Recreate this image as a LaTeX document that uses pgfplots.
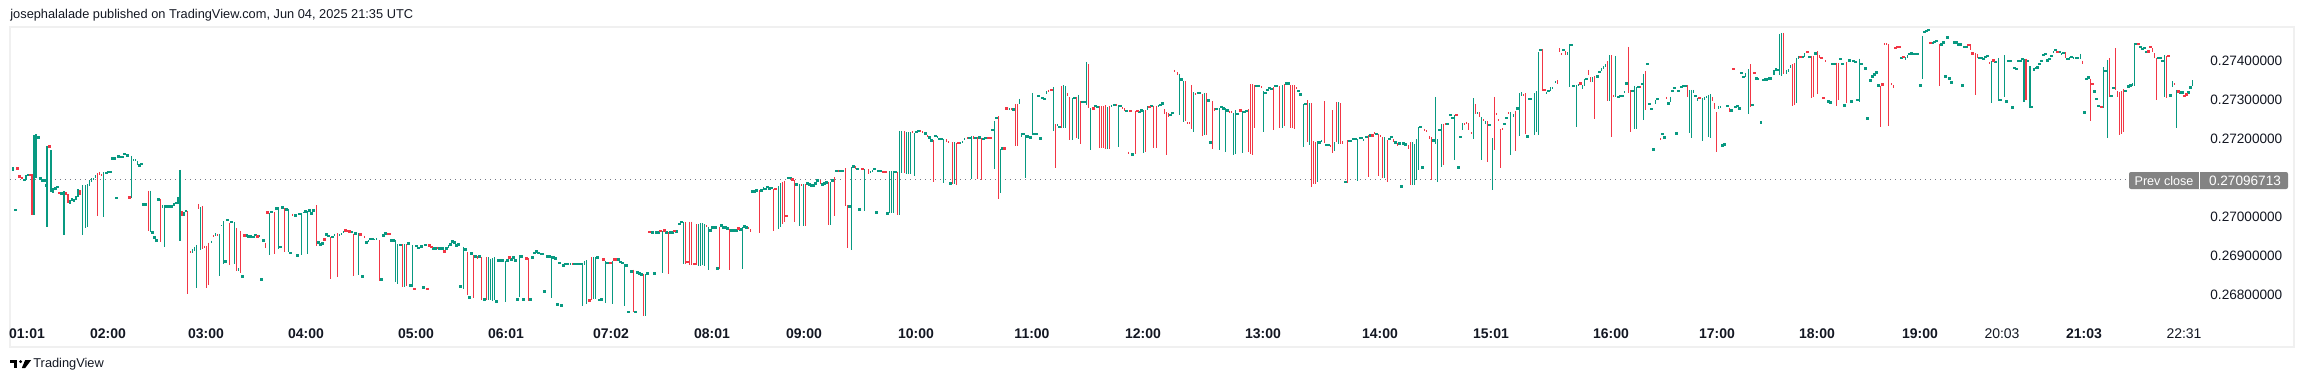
\documentclass[border=0pt]{standalone}
\usepackage{fontspec}
\setmainfont{Liberation Sans}
\usepackage{pgfplots}
\usepackage{pgfplotstable}
\pgfplotsset{compat=1.18}
\definecolor{tvgreen}{RGB}{8,153,129}
\definecolor{tvred}{RGB}{242,54,69}
\definecolor{tvtext}{RGB}{19,23,34}
\definecolor{tvframe}{RGB}{240,240,240}
\definecolor{tvdot}{RGB}{120,123,134}
\definecolor{tvbox}{RGB}{131,131,131}

% green candles with a visible range: x lo hi
\pgfplotstableread[row sep=\\]{x lo hi\\
13.3 0.27119 0.27128\\26.3 0.27095 0.27108\\34.3 0.27005 0.27210\\36.3 0.27101 0.27213\\47.3 0.26976 0.27182\\51.3 0.27065 0.27172\\53.3 0.27063 0.27074\\64.3 0.26954 0.27067\\
70.3 0.27034 0.27044\\72.3 0.27041 0.27049\\74.3 0.27040 0.27047\\76.3 0.27044 0.27054\\78.3 0.27052 0.27072\\82.3 0.26954 0.27082\\85.3 0.26973 0.27082\\87.3 0.26975 0.27085\\
89.3 0.27081 0.27095\\91.3 0.27091 0.27100\\93.3 0.27094 0.27100\\95.3 0.27101 0.27108\\103.3 0.27000 0.27116\\120.3 0.27152 0.27157\\131.3 0.27049 0.27157\\133.3 0.27144 0.27148\\
135.3 0.27144 0.27148\\137.3 0.27134 0.27145\\150.3 0.26961 0.27068\\162.3 0.27024 0.27030\\164.3 0.26924 0.27030\\171.7 0.27024 0.27030\\175.7 0.27033 0.27039\\177.7 0.27035 0.27051\\
179.7 0.26939 0.27121\\183.7 0.27004 0.27014\\192.3 0.26908 0.26918\\194.3 0.26914 0.26924\\196.3 0.26819 0.26929\\200.3 0.26917 0.27026\\211.3 0.26935 0.26940\\215.3 0.26952 0.26959\\
219.3 0.26849 0.26958\\221.3 0.26977 0.26980\\223.3 0.26880 0.26990\\234.3 0.26880 0.26988\\238.3 0.26863 0.26870\\259.3 0.26949 0.26954\\269.3 0.26903 0.27011\\278.3 0.26918 0.27026\\
288.3 0.26912 0.27020\\301.3 0.26903 0.27011\\303.3 0.27011 0.27014\\307.3 0.26907 0.27015\\334.3 0.26951 0.26957\\339.3 0.26953 0.26957\\341.3 0.26954 0.26959\\343.3 0.26960 0.26965\\
358.3 0.26852 0.26959\\368.3 0.26937 0.26942\\374.3 0.26941 0.26944\\376.3 0.26941 0.26947\\395.3 0.26834 0.26941\\397.3 0.26829 0.26931\\404.3 0.26822 0.26931\\412.3 0.26821 0.26928\\
448.3 0.26921 0.26929\\463.3 0.26816 0.26924\\488.3 0.26788 0.26897\\490.3 0.26788 0.26894\\492.3 0.26785 0.26895\\494.3 0.26788 0.26897\\505.3 0.26784 0.26889\\519.3 0.26795 0.26903\\
540.3 0.26903 0.26908\\551.3 0.26794 0.26900\\570.3 0.26877 0.26883\\582.3 0.26773 0.26883\\584.3 0.26877 0.26888\\586.3 0.26778 0.26890\\593.3 0.26790 0.26898\\595.3 0.26790 0.26898\\
605.3 0.26781 0.26888\\612.3 0.26778 0.26888\\624.3 0.26773 0.26880\\645.3 0.26748 0.26854\\662.3 0.26858 0.26965\\683.3 0.26880 0.26988\\698.3 0.26876 0.26982\\700.3 0.26876 0.26985\\
702.3 0.26877 0.26985\\704.3 0.26876 0.26982\\708.3 0.26865 0.26976\\742.3 0.26868 0.26974\\763.3 0.27069 0.27077\\778.3 0.26970 0.27079\\780.3 0.26974 0.27087\\799.3 0.26978 0.27084\\
803.3 0.26978 0.27084\\830.3 0.26981 0.27089\\851.3 0.26917 0.27128\\864.3 0.27017 0.27123\\870.3 0.27114 0.27118\\872.3 0.27116 0.27121\\
889.3 0.27010 0.27118\\891.3 0.27011 0.27118\\893.3 0.27011 0.27118\\899.3 0.27005 0.27221\\901.3 0.27113 0.27221\\906.3 0.27111 0.27218\\908.3 0.27111 0.27218\\910.3 0.27111 0.27218\\
914.3 0.27105 0.27215\\937.3 0.27203 0.27208\\943.3 0.27088 0.27200\\954.3 0.27086 0.27192\\960.3 0.27187 0.27192\\962.3 0.27190 0.27195\\964.3 0.27197 0.27203\\971.3 0.27099 0.27208\\
994.3 0.27124 0.27246\\1000.3 0.27062 0.27174\\1009.3 0.27274 0.27279\\1019.3 0.27290 0.27303\\1021.3 0.27205 0.27215\\1025.3 0.27100 0.27210\\1032.3 0.27210 0.27318\\1046.3 0.27315 0.27323\\
1053.3 0.27221 0.27333\\1057.3 0.27233 0.27239\\1063.3 0.27228 0.27338\\1065.3 0.27228 0.27336\\1072.3 0.27197 0.27305\\1078.3 0.27200 0.27313\\1086.3 0.27287 0.27398\\1090.3 0.27172 0.27279\\
1107.3 0.27174 0.27282\\1111.3 0.27282 0.27287\\1118.3 0.27180 0.27287\\1143.3 0.27165 0.27274\\1147.3 0.27274 0.27285\\1158.3 0.27282 0.27287\\1179.3 0.27262 0.27367\\1183.3 0.27244 0.27349\\
1193.3 0.27218 0.27320\\1200.3 0.27315 0.27320\\1204.3 0.27210 0.27318\\1219.3 0.27172 0.27279\\1225.3 0.27167 0.27279\\1233.3 0.27159 0.27267\\1235.3 0.27162 0.27274\\1242.3 0.27164 0.27272\\
1263.3 0.27218 0.27323\\1277.3 0.27333 0.27338\\1282.3 0.27228 0.27338\\1303.3 0.27180 0.27290\\1309.3 0.27185 0.27292\\1317.3 0.27090 0.27195\\
1321.3 0.27192 0.27197\\1334.3 0.27170 0.27192\\1338.3 0.27187 0.27295\\1351.3 0.27192 0.27197\\1357.3 0.27093 0.27200\\1359.3 0.27200 0.27205\\1363.3 0.27195 0.27200\\1384.3 0.27100 0.27205\\
1412.3 0.27082 0.27192\\1414.3 0.27082 0.27187\\1416.3 0.27094 0.27200\\1418.3 0.27122 0.27231\\1435.3 0.27187 0.27308\\1437.3 0.27091 0.27200\\1441.3 0.27129 0.27239\\1454.3 0.27146 0.27262\\
1462.3 0.27223 0.27241\\1473.3 0.27200 0.27305\\1477.3 0.27264 0.27269\\1481.3 0.27146 0.27256\\1485.3 0.27239 0.27246\\1492.3 0.27070 0.27203\\1510.3 0.27159 0.27269\\1513.3 0.27256 0.27264\\
1519.3 0.27208 0.27318\\1521.3 0.27310 0.27320\\1531.3 0.27300 0.27305\\1534.3 0.27210 0.27318\\1536.3 0.27218 0.27323\\1538.3 0.27210 0.27423\\1546.3 0.27315 0.27320\\1550.3 0.27323 0.27333\\
1552.3 0.27328 0.27333\\1555.3 0.27343 0.27349\\1567.3 0.27415 0.27423\\1569.3 0.27333 0.27443\\1576.3 0.27231 0.27338\\1578.3 0.27336 0.27341\\1582.3 0.27328 0.27338\\1584.3 0.27336 0.27354\\
1592.3 0.27346 0.27359\\1601.3 0.27374 0.27382\\1603.3 0.27379 0.27387\\1605.3 0.27384 0.27392\\1609.3 0.27297 0.27415\\1615.3 0.27308 0.27413\\1624.3 0.27318 0.27323\\1634.3 0.27226 0.27336\\
1636.3 0.27226 0.27333\\1643.3 0.27249 0.27367\\1655.3 0.27290 0.27300\\1670.3 0.27295 0.27308\\1689.3 0.27215 0.27326\\1691.3 0.27203 0.27326\\1693.3 0.27318 0.27326\\1697.3 0.27297 0.27305\\
1702.3 0.27195 0.27305\\1704.3 0.27300 0.27308\\1706.3 0.27305 0.27310\\1708.3 0.27205 0.27313\\1710.3 0.27203 0.27315\\1718.3 0.27277 0.27285\\1720.3 0.27279 0.27285\\1745.3 0.27359 0.27369\\
1748.3 0.27264 0.27379\\1758.3 0.27351 0.27356\\
1773.7 0.27364 0.27377\\1779.3 0.27364 0.27469\\1781.3 0.27361 0.27472\\1786.3 0.27367 0.27377\\1788.3 0.27372 0.27379\\1790.3 0.27382 0.27390\\1796.3 0.27292 0.27408\\1798.3 0.27405 0.27413\\
1804.3 0.27410 0.27420\\1859.3 0.27296 0.27406\\1905.3 0.27403 0.27410\\1907.3 0.27408 0.27415\\1915.3 0.27415 0.27420\\1922.3 0.27355 0.27464\\1991.3 0.27292 0.27401\\1998.3 0.27297 0.27408\\
2004.3 0.27308 0.27415\\2024.0 0.27295 0.27406\\2029.8 0.27280 0.27387\\2053.3 0.27420 0.27425\\2061.3 0.27415 0.27420\\2069.3 0.27403 0.27410\\2073.3 0.27405 0.27410\\2075.3 0.27405 0.27410\\
2080.3 0.27405 0.27418\\2103.3 0.27279 0.27384\\2107.3 0.27204 0.27403\\2132.3 0.27337 0.27343\\2134.3 0.27337 0.27445\\2164.3 0.27308 0.27415\\2172.3 0.27333 0.27349\\2176.3 0.27229 0.27326\\
2192.3 0.27336 0.27351\\
}\gbars

% red candles with a visible range: x lo hi
\pgfplotstableread[row sep=\\]{x lo hi\\
22.3 0.27098 0.27103\\32.3 0.27005 0.27110\\59.3 0.27060 0.27065\\66.3 0.27058 0.27065\\68.3 0.27037 0.27059\\80.3 0.27058 0.27069\\97.3 0.27003 0.27113\\99.3 0.27108 0.27116\\
101.3 0.27105 0.27111\\148.3 0.26965 0.27068\\160.3 0.26936 0.27047\\181.7 0.27003 0.27016\\187.3 0.26803 0.27016\\190.3 0.26908 0.26913\\198.3 0.27022 0.27034\\202.3 0.26919 0.27029\\
204.3 0.26921 0.26927\\206.3 0.26819 0.26927\\208.3 0.26826 0.26935\\213.3 0.26949 0.26954\\217.3 0.26953 0.26957\\229.3 0.26877 0.26986\\236.3 0.26863 0.26972\\240.3 0.26858 0.26965\\
265.3 0.26921 0.26933\\274.3 0.26907 0.27013\\284.3 0.26912 0.27023\\292.3 0.27003 0.27009\\316.3 0.26926 0.27031\\330.3 0.26842 0.26949\\337.3 0.26847 0.26959\\353.3 0.26850 0.26957\\
364.3 0.26947 0.26953\\379.3 0.26836 0.26941\\387.3 0.26954 0.26959\\402.3 0.26822 0.26931\\406.3 0.26823 0.26931\\437.3 0.26919 0.26924\\
467.3 0.26801 0.26911\\473.3 0.26794 0.26903\\477.3 0.26894 0.26900\\481.3 0.26788 0.26897\\486.3 0.26788 0.26897\\528.3 0.26786 0.26895\\572.3 0.26877 0.26883\\591.3 0.26788 0.26898\\
616.3 0.26889 0.26895\\633.3 0.26758 0.26866\\643.3 0.26748 0.26854\\668.3 0.26854 0.26961\\685.3 0.26880 0.26988\\689.3 0.26877 0.26989\\691.3 0.26877 0.26989\\696.3 0.26877 0.26982\\
706.3 0.26974 0.26979\\719.3 0.26868 0.26976\\729.3 0.26865 0.26971\\748.3 0.26969 0.26974\\750.3 0.26963 0.26969\\759.3 0.26960 0.27069\\773.3 0.26965 0.27072\\782.3 0.26982 0.27091\\
784.3 0.26988 0.27093\\794.3 0.26988 0.27094\\801.3 0.27080 0.27084\\805.3 0.26978 0.27084\\820.3 0.27086 0.27094\\828.3 0.26981 0.27089\\834.3 0.27004 0.27103\\838.3 0.27116 0.27121\\
845.3 0.27029 0.27126\\847.3 0.26922 0.27031\\855.3 0.27123 0.27130\\868.3 0.27111 0.27123\\
897.3 0.27005 0.27116\\904.3 0.27113 0.27221\\912.3 0.27215 0.27221\\920.3 0.27218 0.27223\\922.3 0.27215 0.27221\\927.3 0.27205 0.27210\\933.3 0.27091 0.27197\\946.3 0.27192 0.27200\\
948.3 0.27190 0.27195\\952.3 0.27086 0.27192\\956.3 0.27083 0.27190\\967.3 0.27200 0.27205\\973.3 0.27200 0.27208\\977.3 0.27098 0.27205\\981.3 0.27094 0.27203\\998.3 0.27047 0.27259\\
1011.3 0.27274 0.27279\\1015.3 0.27182 0.27290\\1017.3 0.27182 0.27290\\1048.3 0.27320 0.27326\\1055.3 0.27126 0.27239\\1061.3 0.27228 0.27336\\1067.3 0.27310 0.27318\\1069.3 0.27197 0.27308\\
1076.3 0.27203 0.27308\\1080.3 0.27187 0.27297\\1088.3 0.27279 0.27392\\1099.3 0.27177 0.27285\\1101.3 0.27177 0.27285\\1103.3 0.27177 0.27285\\1105.3 0.27174 0.27287\\1109.3 0.27174 0.27285\\
1116.3 0.27285 0.27290\\1122.3 0.27277 0.27282\\1124.3 0.27272 0.27279\\1128.3 0.27163 0.27168\\1135.3 0.27162 0.27272\\1145.3 0.27167 0.27274\\1153.3 0.27177 0.27285\\1156.3 0.27177 0.27285\\
1164.3 0.27264 0.27277\\1166.3 0.27160 0.27269\\1168.3 0.27257 0.27267\\1174.3 0.27372 0.27377\\1177.3 0.27364 0.27372\\1185.3 0.27246 0.27349\\1187.3 0.27239 0.27244\\1189.3 0.27239 0.27244\\
1191.3 0.27226 0.27338\\1195.3 0.27313 0.27318\\1202.3 0.27208 0.27315\\1206.3 0.27210 0.27318\\1212.3 0.27174 0.27297\\1214.3 0.27272 0.27279\\1229.3 0.27267 0.27272\\1231.3 0.27267 0.27272\\
1248.3 0.27167 0.27277\\1250.3 0.27162 0.27341\\1252.3 0.27160 0.27341\\1254.3 0.27228 0.27338\\1261.3 0.27331 0.27336\\1273.3 0.27223 0.27333\\1279.3 0.27228 0.27336\\1284.3 0.27233 0.27341\\
1290.3 0.27228 0.27338\\1292.3 0.27228 0.27338\\1294.3 0.27226 0.27338\\1296.3 0.27328 0.27333\\1307.3 0.27192 0.27300\\1311.3 0.27077 0.27292\\1313.3 0.27086 0.27195\\1315.3 0.27086 0.27192\\
1324.3 0.27190 0.27297\\1330.3 0.27180 0.27185\\1332.3 0.27165 0.27274\\1336.3 0.27192 0.27295\\1340.3 0.27187 0.27292\\1342.3 0.27187 0.27195\\1347.3 0.27088 0.27197\\1368.3 0.27103 0.27210\\
1374.3 0.27213 0.27218\\1378.3 0.27105 0.27213\\1380.3 0.27205 0.27210\\1382.3 0.27100 0.27205\\1387.3 0.27090 0.27197\\1393.3 0.27192 0.27200\\1397.3 0.27183 0.27190\\1408.3 0.27174 0.27185\\
1410.3 0.27082 0.27192\\1424.3 0.27221 0.27226\\1426.3 0.27218 0.27223\\1429.3 0.27200 0.27208\\1431.3 0.27094 0.27205\\1443.3 0.27133 0.27239\\1445.3 0.27236 0.27241\\1464.3 0.27236 0.27241\\
1466.3 0.27239 0.27244\\1468.3 0.27223 0.27241\\1471.3 0.27213 0.27218\\1475.3 0.27264 0.27290\\1479.3 0.27256 0.27269\\1483.3 0.27246 0.27251\\1487.3 0.27141 0.27246\\1494.3 0.27172 0.27308\\
1496.3 0.27262 0.27267\\1498.3 0.27246 0.27251\\1500.3 0.27126 0.27226\\1502.3 0.27223 0.27228\\1508.3 0.27264 0.27269\\1515.3 0.27169 0.27272\\1523.3 0.27310 0.27315\\1525.3 0.27213 0.27318\\
1542.3 0.27323 0.27431\\1557.3 0.27341 0.27351\\1559.3 0.27423 0.27433\\1561.3 0.27415 0.27420\\1565.3 0.27415 0.27425\\1588.3 0.27364 0.27377\\1590.3 0.27346 0.27359\\1594.3 0.27251 0.27361\\
1607.3 0.27297 0.27400\\1611.3 0.27205 0.27415\\1613.3 0.27308 0.27313\\1628.3 0.27318 0.27436\\1630.3 0.27218 0.27326\\1640.3 0.27331 0.27336\\1645.3 0.27274 0.27374\\1660.3 0.27197 0.27203\\
1666.3 0.27303 0.27308\\1687.3 0.27308 0.27338\\1712.3 0.27297 0.27308\\1714.3 0.27277 0.27292\\1716.3 0.27167 0.27269\\1729.3 0.27269 0.27279\\1750.3 0.27282 0.27392\\
1783.3 0.27367 0.27472\\1792.3 0.27285 0.27392\\1794.3 0.27287 0.27395\\1811.3 0.27305 0.27413\\1813.3 0.27308 0.27413\\1817.3 0.27315 0.27425\\1819.3 0.27408 0.27415\\1825.3 0.27398 0.27403\\
1836.3 0.27285 0.27395\\1838.3 0.27300 0.27395\\1846.3 0.27292 0.27398\\1880.3 0.27232 0.27337\\1884.3 0.27441 0.27446\\1886.3 0.27441 0.27446\\1888.3 0.27234 0.27443\\1891.3 0.27338 0.27343\\
1893.3 0.27331 0.27338\\1939.3 0.27336 0.27443\\1970.3 0.27429 0.27443\\1975.3 0.27313 0.27420\\1977.3 0.27408 0.27418\\1989.3 0.27393 0.27398\\2025.8 0.27300 0.27406\\2065.3 0.27408 0.27423\\
2082.3 0.27393 0.27401\\2090.3 0.27246 0.27355\\2109.3 0.27308 0.27408\\2115.3 0.27325 0.27433\\2117.3 0.27308 0.27323\\2119.3 0.27211 0.27320\\2121.3 0.27214 0.27322\\2123.3 0.27219 0.27328\\
2152.3 0.27423 0.27433\\2154.3 0.27408 0.27420\\2156.3 0.27300 0.27408\\2166.3 0.27305 0.27413\\2174.3 0.27338 0.27343\\
}\rbars

% green flat candles: x price
\pgfplotstableread[row sep=\\]{x y\\
15.3 0.27018\\24.3 0.27095\\28.3 0.27108\\38.3 0.27204\\40.3 0.27099\\42.3 0.27094\\44.3 0.27094\\45.7 0.27081\\55.3 0.27074\\57.3 0.27077\\61.3 0.27061\\106.3 0.27113\\
108.3 0.27116\\110.3 0.27116\\112.3 0.27151\\114.3 0.27151\\116.3 0.27049\\118.3 0.27156\\122.3 0.27154\\124.3 0.27162\\127.3 0.27158\\139.3 0.27133\\141.3 0.27136\\143.3 0.27033\\
145.3 0.27033\\152.3 0.26961\\154.3 0.26948\\156.3 0.26941\\158.3 0.27046\\166.3 0.27028\\168.3 0.27028\\170.0 0.27028\\173.7 0.27033\\185.7 0.27016\\225.3 0.26887\\227.3 0.26993\\
231.3 0.26988\\242.3 0.26848\\246.3 0.26953\\248.3 0.26951\\250.3 0.26951\\253.3 0.26949\\255.3 0.26954\\261.3 0.26841\\263.3 0.26941\\271.3 0.27013\\276.3 0.27023\\280.3 0.26924\\
282.3 0.27025\\286.3 0.27020\\290.3 0.26909\\295.3 0.27005\\297.3 0.26902\\299.3 0.27009\\305.3 0.27015\\309.3 0.27017\\311.3 0.27010\\313.3 0.27017\\318.3 0.26935\\320.3 0.26930\\
322.3 0.26933\\326.3 0.26956\\328.3 0.26952\\332.3 0.26949\\351.3 0.26963\\355.3 0.26959\\362.3 0.26848\\366.3 0.26936\\370.3 0.26944\\372.3 0.26944\\381.3 0.26841\\383.3 0.26953\\
385.3 0.26959\\391.3 0.26941\\393.3 0.26941\\400.3 0.26929\\408.3 0.26933\\410.3 0.26825\\416.3 0.26926\\418.3 0.26922\\421.3 0.26925\\423.3 0.26820\\425.3 0.26929\\433.3 0.26920\\
435.3 0.26920\\439.3 0.26920\\
442.3 0.26920\\446.3 0.26920\\450.3 0.26930\\452.3 0.26938\\454.3 0.26935\\456.3 0.26928\\458.3 0.26930\\460.3 0.26823\\465.3 0.26918\\469.3 0.26795\\471.3 0.26907\\475.3 0.26900\\
479.3 0.26900\\484.3 0.26789\\496.3 0.26784\\498.3 0.26889\\500.3 0.26889\\502.3 0.26889\\507.3 0.26889\\511.3 0.26892\\513.3 0.26897\\515.3 0.26889\\517.3 0.26789\\521.3 0.26900\\
523.3 0.26789\\530.3 0.26789\\532.3 0.26897\\534.3 0.26908\\536.3 0.26912\\538.3 0.26909\\542.3 0.26906\\544.3 0.26810\\547.3 0.26900\\549.3 0.26900\\553.3 0.26897\\555.3 0.26895\\
557.3 0.26777\\559.3 0.26883\\561.3 0.26774\\563.3 0.26877\\565.3 0.26880\\567.3 0.26880\\574.3 0.26881\\576.3 0.26880\\578.3 0.26880\\580.3 0.26880\\597.3 0.26897\\599.3 0.26788\\
601.3 0.26790\\607.3 0.26883\\618.3 0.26892\\620.3 0.26885\\622.3 0.26883\\626.3 0.26877\\628.3 0.26757\\631.3 0.26861\\635.3 0.26757\\637.3 0.26859\\639.3 0.26856\\641.3 0.26854\\
647.3 0.26856\\652.3 0.26961\\654.3 0.26856\\656.3 0.26961\\658.3 0.26961\\666.3 0.26961\\670.3 0.26961\\672.3 0.26961\\676.3 0.26964\\679.3 0.26983\\681.3 0.26988\\710.3 0.26966\\
712.3 0.26974\\715.3 0.26974\\717.3 0.26869\\721.3 0.26979\\723.3 0.26974\\725.3 0.26974\\727.3 0.26971\\731.3 0.26966\\733.3 0.26966\\736.3 0.26966\\740.3 0.26969\\744.3 0.26976\\
746.3 0.26974\\752.3 0.27066\\754.3 0.27066\\756.3 0.27069\\761.3 0.27069\\765.3 0.27072\\767.3 0.27077\\769.3 0.27074\\771.3 0.27075\\788.3 0.27101\\790.3 0.27101\\796.3 0.27084\\
807.3 0.27087\\809.3 0.27084\\811.3 0.27081\\813.3 0.27081\\815.3 0.27087\\817.3 0.27094\\822.3 0.27084\\824.3 0.27087\\826.3 0.27089\\832.3 0.27094\\836.3 0.27118\\840.3 0.27118\\
842.3 0.27118\\849.3 0.27028\\853.3 0.27130\\857.3 0.27124\\859.3 0.27020\\874.3 0.27123\\876.3 0.27012\\878.3 0.27118\\
880.7 0.27118\\887.3 0.27010\\895.3 0.27116\\916.3 0.27218\\918.3 0.27221\\925.3 0.27215\\929.3 0.27204\\931.3 0.27197\\935.3 0.27208\\939.3 0.27200\\941.3 0.27200\\950.3 0.27087\\
969.3 0.27203\\975.3 0.27203\\979.3 0.27204\\983.3 0.27200\\985.3 0.27203\\992.3 0.27223\\996.3 0.27254\\1002.3 0.27176\\1013.3 0.27276\\1023.3 0.27213\\1027.3 0.27207\\1030.3 0.27204\\
1034.3 0.27213\\1036.3 0.27213\\1038.3 0.27310\\1040.3 0.27202\\1042.3 0.27305\\1044.3 0.27303\\1059.3 0.27231\\1074.3 0.27305\\1082.3 0.27295\\1084.3 0.27295\\1095.3 0.27285\\1097.3 0.27282\\
1114.3 0.27287\\1120.3 0.27285\\1126.3 0.27272\\1132.3 0.27161\\1139.3 0.27269\\1141.3 0.27274\\1151.3 0.27285\\1160.3 0.27287\\1162.3 0.27291\\1170.3 0.27262\\1172.3 0.27267\\1181.3 0.27353\\
1198.3 0.27318\\1208.3 0.27299\\1210.3 0.27192\\1216.3 0.27277\\1221.3 0.27282\\1223.3 0.27279\\1227.3 0.27274\\1237.3 0.27264\\1244.3 0.27269\\1246.3 0.27272\\1256.3 0.27336\\1258.3 0.27336\\
1265.3 0.27318\\1267.3 0.27326\\1269.3 0.27331\\1271.3 0.27328\\1275.3 0.27336\\1286.3 0.27343\\1288.3 0.27343\\1298.3 0.27323\\1300.3 0.27315\\1305.3 0.27290\\1319.3 0.27192\\
1326.3 0.27185\\1328.3 0.27185\\1345.3 0.27090\\1349.3 0.27195\\1353.3 0.27200\\1355.3 0.27200\\1361.3 0.27203\\1366.3 0.27205\\1370.3 0.27210\\1376.3 0.27213\\1389.3 0.27200\\1391.3 0.27205\\
1395.3 0.27192\\1399.3 0.27189\\1401.3 0.27079\\1403.3 0.27189\\1405.3 0.27187\\1420.3 0.27231\\1422.3 0.27127\\1433.3 0.27197\\1439.3 0.27223\\1447.3 0.27239\\1450.3 0.27262\\1452.3 0.27254\\
1458.3 0.27127\\1460.3 0.27205\\1489.3 0.27236\\1504.3 0.27239\\1506.3 0.27254\\1517.3 0.27279\\1527.3 0.27207\\1529.3 0.27303\\1540.3 0.27428\\1548.3 0.27323\\1563.3 0.27428\\1571.3 0.27441\\
1573.3 0.27336\\1586.3 0.27354\\1597.3 0.27361\\1599.3 0.27372\\1618.3 0.27308\\1620.3 0.27310\\1622.3 0.27310\\1626.3 0.27343\\1632.3 0.27323\\1638.3 0.27333\\1641.8 0.27341\\1647.3 0.27392\\
1649.3 0.27290\\1651.3 0.27277\\1653.3 0.27174\\1657.3 0.27303\\1662.3 0.27213\\1664.3 0.27204\\1668.3 0.27291\\1672.3 0.27323\\1674.3 0.27331\\1676.3 0.27215\\1678.3 0.27323\\1681.3 0.27333\\
1683.3 0.27336\\1685.3 0.27336\\1695.3 0.27310\\1722.3 0.27184\\1724.3 0.27187\\1727.3 0.27285\\1731.3 0.27274\\1735.3 0.27282\\1737.3 0.27285\\1739.3 0.27279\\1741.3 0.27369\\1743.3 0.27359\\
1752.3 0.27287\\1756.3 0.27356\\
1760.7 0.27243\\1762.7 0.27351\\1764.7 0.27353\\1766.7 0.27353\\1768.7 0.27355\\1770.7 0.27355\\1775.7 0.27379\\1777.7 0.27377\\1802.3 0.27411\\1809.3 0.27410\\1815.3 0.27420\\1828.3 0.27297\\
1830.3 0.27294\\1832.3 0.27393\\1834.3 0.27393\\1840.3 0.27406\\1842.3 0.27393\\1844.3 0.27286\\1849.3 0.27402\\1851.3 0.27297\\1853.3 0.27400\\1855.3 0.27398\\1857.3 0.27300\\1861.3 0.27393\\
1865.3 0.27381\\1867.3 0.27253\\1870.3 0.27350\\1872.3 0.27361\\1874.3 0.27366\\1876.3 0.27371\\1878.3 0.27337\\1901.3 0.27408\\1909.3 0.27418\\1911.3 0.27420\\1913.3 0.27418\\1917.3 0.27418\\
1920.3 0.27337\\1924.3 0.27474\\1926.3 0.27477\\1928.3 0.27479\\1932.3 0.27447\\1934.3 0.27449\\1936.3 0.27451\\1941.3 0.27443\\1943.3 0.27448\\1945.3 0.27361\\1947.3 0.27461\\1949.3 0.27355\\
1951.3 0.27345\\1954.3 0.27448\\1956.3 0.27448\\1958.3 0.27443\\1960.3 0.27443\\1962.3 0.27337\\1964.3 0.27436\\1966.3 0.27436\\1979.3 0.27408\\1981.3 0.27408\\1983.3 0.27406\\1985.3 0.27410\\
1987.3 0.27413\\1995.3 0.27398\\2000.3 0.27301\\2006.3 0.27296\\2008.3 0.27400\\2010.3 0.27400\\2012.3 0.27281\\2014.3 0.27383\\2016.3 0.27380\\2018.3 0.27400\\2020.3 0.27400\\2022.3 0.27405\\
2027.8 0.27400\\2031.8 0.27282\\2033.8 0.27379\\2035.8 0.27382\\2037.3 0.27384\\2039.3 0.27393\\2041.3 0.27400\\2043.3 0.27415\\2045.3 0.27418\\2047.3 0.27402\\2049.3 0.27405\\2051.3 0.27413\\
2055.3 0.27428\\2059.3 0.27423\\2063.3 0.27421\\2067.3 0.27406\\2071.3 0.27410\\2077.3 0.27408\\2084.3 0.27268\\2086.3 0.27354\\2088.3 0.27358\\2094.3 0.27322\\2096.3 0.27303\\2098.3 0.27285\\
2105.3 0.27374\\2111.3 0.27311\\2113.3 0.27331\\2125.3 0.27323\\2128.3 0.27335\\2130.3 0.27338\\2136.3 0.27444\\2140.3 0.27436\\2142.3 0.27431\\2144.3 0.27433\\2146.3 0.27423\\2158.3 0.27408\\
2160.3 0.27408\\2162.3 0.27400\\2170.3 0.27312\\2180.3 0.27320\\2182.3 0.27320\\2188.3 0.27320\\2190.3 0.27332\\
}\gdots

% red flat candles: x price
\pgfplotstableread[row sep=\\]{x y\\
17.3 0.27125\\19.3 0.27105\\30.3 0.27108\\49.3 0.27181\\129.3 0.27051\\244.3 0.26953\\257.3 0.26951\\267.3 0.27012\\324.3 0.26943\\345.3 0.26966\\347.3 0.26965\\349.3 0.26964\\
360.3 0.26956\\389.3 0.26957\\414.3 0.26816\\427.3 0.26816\\429.3 0.26928\\431.3 0.26924\\
444.3 0.26912\\509.3 0.26897\\526.3 0.26895\\589.3 0.26787\\603.3 0.26892\\610.3 0.26883\\614.3 0.26892\\649.3 0.26963\\660.3 0.26965\\664.3 0.26966\\674.3 0.26965\\687.3 0.26886\\
694.3 0.26881\\738.3 0.26971\\775.3 0.27072\\786.3 0.27004\\792.3 0.27097\\862.3 0.27123\\
883.3 0.27116\\885.3 0.27116\\958.3 0.27190\\988.3 0.27203\\990.3 0.27203\\1004.3 0.27176\\1006.3 0.27279\\1051.3 0.27326\\1093.3 0.27279\\1130.3 0.27272\\1137.3 0.27272\\1149.3 0.27282\\
1240.3 0.27274\\1372.3 0.27210\\1456.3 0.27262\\1544.3 0.27326\\1580.3 0.27343\\1699.3 0.27305\\1733.3 0.27380\\1754.3 0.27369\\
1800.3 0.27410\\1807.3 0.27423\\1821.3 0.27408\\1823.3 0.27305\\1882.3 0.27340\\1895.3 0.27433\\1897.3 0.27436\\1899.3 0.27436\\1903.3 0.27410\\1930.3 0.27446\\1968.3 0.27441\\1972.3 0.27420\\
1993.3 0.27401\\2057.3 0.27423\\2092.3 0.27341\\2101.3 0.27282\\2138.3 0.27444\\2148.3 0.27425\\2150.3 0.27436\\2168.3 0.27413\\2178.3 0.27322\\2184.3 0.27310\\2186.3 0.27315\\
}\rdots

\begin{document}
\begin{tikzpicture}
\useasboundingbox (0,0) rectangle (1152pt,191pt);
% frame of the chart panel
\draw[tvframe, line width=1pt] (5pt,17.5pt) rectangle (1147pt,177.5pt);
% title
\node[anchor=west, inner sep=0pt, text=tvtext, font=\fontsize{6.4pt}{7.5pt}\selectfont] at (5pt,183.3pt)
  {josephalalade published on TradingView.com, Jun 04, 2025 21:35 UTC};
\begin{axis}[
  at={(5pt,31pt)}, anchor=south west,
  scale only axis, width=1095pt, height=146.5pt,
  xmin=10, xmax=2200,
  ymin=0.2673675, ymax=0.2748707,
  axis line style={draw=none},
  major tick length=0pt,
  clip=true,
  ytick={0.268,0.269,0.270,0.272,0.273,0.274},
  yticklabels={0.26800000,0.26900000,0.27000000,0.27200000,0.27300000,0.27400000},
  yticklabel pos=right,
  yticklabel style={anchor=west, inner sep=0pt, xshift=5pt, text=tvtext, font=\fontsize{6.8pt}{8pt}\selectfont},
  xtick={27,108,206,306,416,506,611,712,804,916,1032,1143,1263,1380,1491,1611,1717,1817,1920,2002,2084,2184},
  xticklabels={\textbf{01:01},\textbf{02:00},\textbf{03:00},\textbf{04:00},\textbf{05:00},\textbf{06:01},\textbf{07:02},\textbf{08:01},\textbf{09:00},\textbf{10:00},\textbf{11:00},\textbf{12:00},\textbf{13:00},\textbf{14:00},\textbf{15:01},\textbf{16:00},\textbf{17:00},\textbf{18:00},\textbf{19:00},20:03,\textbf{21:03},22:31},
  xticklabel style={anchor=base, inner sep=0pt, yshift=-9pt, text=tvtext, font=\fontsize{7pt}{8pt}\selectfont},
]
% previous close (dotted)
\addplot[tvdot, line width=0.5pt, dash pattern=on 0.5pt off 2pt] coordinates {(10,0.27096713) (2128,0.27096713)};
% candles
\addplot[tvgreen, line width=0.8pt, quiver={u=0, v=\thisrow{lo}-\thisrow{hi}}] table[x=x, y=hi] {\gbars};
\addplot[tvred, line width=0.8pt, quiver={u=0, v=\thisrow{lo}-\thisrow{hi}}] table[x=x, y=hi] {\rbars};
\addplot[tvgreen, only marks, mark=square*, mark size=0.36pt, mark options={draw=none, fill=tvgreen}] table[x=x, y=y] {\gdots};
\addplot[tvred, only marks, mark=square*, mark size=0.36pt, mark options={draw=none, fill=tvred}] table[x=x, y=y] {\rdots};
\end{axis}
% prev close label
\fill[tvbox, rounded corners=1pt] (1064.5pt,96.5pt) rectangle (1144pt,105pt);
\draw[white, line width=0.5pt] (1099.85pt,96.5pt) -- (1099.85pt,105pt);
\node[text=white, inner sep=0pt, font=\fontsize{6.3pt}{7pt}\selectfont] at (1082pt,100.75pt) {Prev close};
\node[text=white, inner sep=0pt, font=\fontsize{6.8pt}{7pt}\selectfont] at (1122.5pt,100.75pt) {0.27096713};
% TradingView logo
\fill[black] (5pt,9.5pt) rectangle (8.5pt,11pt);
\fill[black] (7pt,7pt) rectangle (8.5pt,11pt);
\fill[black] (10.3pt,10.2pt) circle (0.8pt);
\fill[black] (12.6pt,11pt) -- (15.6pt,11pt) -- (12.6pt,7pt) -- (10.9pt,7pt) -- cycle;
\node[anchor=west, inner sep=0pt, text=tvtext, font=\fontsize{6.4pt}{7pt}\selectfont] at (16.5pt,8.8pt) {TradingView};
\end{tikzpicture}
\end{document}
